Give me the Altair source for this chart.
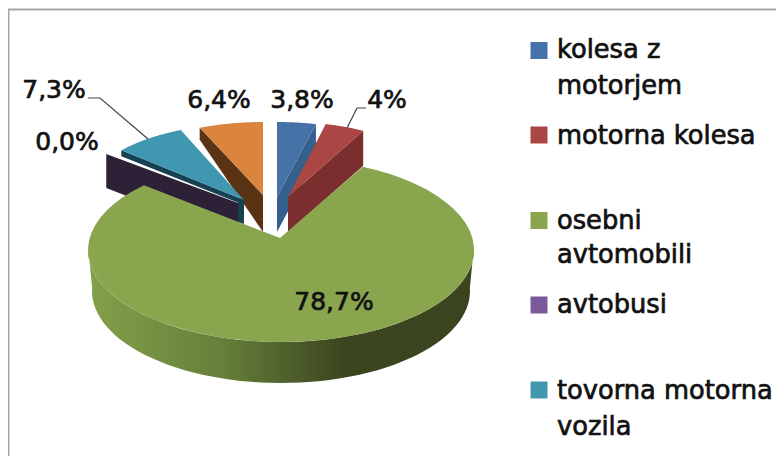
import math
import altair as alt

# ---- data ----
categories = ["kolesa z motorjem", "motorna kolesa", "osebni avtomobili", "avtobusi", "tovorna motorna vozila", "drugo"]
shares = [3.8, 4.0, 78.7, 0.0, 7.3, 6.4]
share_labels = ["3,8%", "4%", "78,7%", "0,0%", "7,3%", "6,4%"]
top_colors = ["#4572A7", "#AA4643", "#89A54E", "#7B5A9B", "#3F97B0", "#DB843D"]
wall_colors = ["#355F8C", "#7A2E2E", "#5F7A36", "#2D2138", "#174152", "#5A3315"]
legend_colors = ["#4572A7", "#AA4643", "#89A54E", "#7B5A9B", "#4198AF"]
legend_swatch_y = [50.5, 135, 220.5, 305, 390]
legend_lines = ["kolesa z", "motorjem", "motorna kolesa", "osebni", "avtomobili", "avtobusi", "tovorna motorna", "vozila"]
legend_line_y = [50, 86, 136, 221, 255, 305, 391, 427]
label_x = [302, 387, 334, 67, 54, 219]
label_y = [100, 100, 302, 142, 90, 100]

# ---- drawing geometry (page pixels) ----
FONT = "DejaVu Sans"
apex = [(277, 197), (288, 197), (280, 238), (238, 203), (244, 200), (263, 195)]
radii = [(165, 75), (160, 75), (193, 92), (174, 75), (162, 76), (162, 73)]
outer_depth = [35, 35, 0, 34, 6, 12]
apex_depth = [35, 35, 0, 36, 5, 37]
GREEN_C = (281, 250)
GREEN_WALL_C = (281, 291)
GREEN_TRIM = (-3, 4)

total = sum(shares)
cum = [0.0]
for s in shares:
    cum.append(cum[-1] + s / total * 360)


def arc(c, r, t0, t1, n=60):
    return [[c[0] + r[0] * math.sin(math.radians(t0 + (t1 - t0) * i / n)),
             c[1] - r[1] * math.cos(math.radians(t0 + (t1 - t0) * i / n))] for i in range(n + 1)]


def feat(points, name):
    pts = [list(p) for p in points]
    pts.append(pts[0])
    return {"type": "Feature", "properties": {"name": name}, "geometry": {"type": "Polygon", "coordinates": [pts]}}


def top_face(i):
    t0, t1 = cum[i], cum[i + 1]
    c = GREEN_C if i == 2 else apex[i]
    if i == 2:
        t0 += GREEN_TRIM[0]
        t1 += GREEN_TRIM[1]
    return [list(apex[i])] + arc(c, radii[i], t0, t1)


def cut_wall(i, angle):
    a = apex[i]
    o = arc(a, radii[i], angle, angle, 1)[0]
    return [a, o, [o[0], o[1] + outer_depth[i]], [a[0], a[1] + apex_depth[i]]]


proj = alt.Projection(type="identity", scale=1, translate=[-8, -8])


def shape(points, fill, name):
    return alt.Chart(alt.Data(values=[feat(points, name)])).mark_geoshape(
        fill=fill, stroke=None, strokeWidth=0).project(**proj.to_dict())


layers = []
# back to front
layers.append(shape(cut_wall(3, cum[3]), wall_colors[3], "avtobusi"))
layers.append(shape(cut_wall(5, cum[5]), wall_colors[5], "wall6"))
layers.append(shape(top_face(5), top_colors[5], "slice6"))
layers.append(shape(cut_wall(4, cum[4]), wall_colors[4], "wall5"))
ax, ay = apex[4]
layers.append(shape([[ax - 6, ay - 2], [ax, ay], [ax, ay + 24], [ax - 6, ay + 22]], wall_colors[4], "cap5"))
layers.append(shape(top_face(4), top_colors[4], "slice5"))
layers.append(shape(cut_wall(0, cum[1]), wall_colors[0], "wall1"))
layers.append(shape(top_face(0), top_colors[0], "slice1"))
layers.append(shape(cut_wall(1, cum[2]), wall_colors[1], "wall2"))
layers.append(shape(top_face(1), top_colors[1], "slice2"))

wall_pts = arc(GREEN_C, radii[2], 88, 272) + arc(GREEN_WALL_C, (189, 92), 272, 88)
grad = alt.Gradient(gradient="linear", x1=0, x2=1, y1=0, y2=0, stops=[
    alt.GradientStop(offset=0, color="#83A04B"),
    alt.GradientStop(offset=0.35, color="#667F3A"),
    alt.GradientStop(offset=0.66, color="#3B461F"),
    alt.GradientStop(offset=1, color="#3A441F"),
])
layers.append(shape(wall_pts, grad, "wall3"))
layers.append(shape(top_face(2), top_colors[2], "slice3"))

xs = alt.Scale(domain=[8, 776], range=[0, 768])
ys = alt.Scale(domain=[8, 456], range=[0, 448])
X = lambda f: alt.X(f, type="quantitative", scale=xs, axis=None)
Y = lambda f: alt.Y(f, type="quantitative", scale=ys, axis=None)

# frame
frame = alt.Chart(alt.Data(values=[{"x": 8.5, "x2": 8.5, "y": 9, "y2": 456}, {"x": 8, "x2": 776, "y": 9.5, "y2": 9.5}])).mark_rule(
    color="#A6A6A6", strokeWidth=2).encode(x=X("x"), x2="x2", y=Y("y"), y2="y2")
layers.insert(0, frame)

# leader lines
leader_data = [
    {"g": "a", "o": 0, "x": 88, "y": 98}, {"g": "a", "o": 1, "x": 100, "y": 98}, {"g": "a", "o": 2, "x": 148, "y": 139},
    {"g": "b", "o": 0, "x": 366, "y": 108}, {"g": "b", "o": 1, "x": 357, "y": 108}, {"g": "b", "o": 2, "x": 347, "y": 128},
]
layers.append(alt.Chart(alt.Data(values=leader_data)).mark_line(color="#444444", strokeWidth=1.2).encode(
    x=X("x"), y=Y("y"), detail="g:N", order="o:Q"))

# data labels
layers.append(alt.Chart(alt.Data(values=[{"t": t, "x": x, "y": y} for t, x, y in zip(share_labels, label_x, label_y)])).mark_text(
    font=FONT, fontSize=25, color="#111111", stroke="#111111", strokeWidth=0.7, align="center", baseline="middle").encode(
    x=X("x"), y=Y("y"), text="t:N"))

# legend swatches and lines
layers.append(alt.Chart(alt.Data(values=[{"c": c, "x": 539, "y": y} for c, y in zip(legend_colors, legend_swatch_y)])).mark_square(
    size=289, opacity=1, strokeWidth=0).encode(x=X("x"), y=Y("y"), color=alt.Color("c:N", scale=None)))
layers.append(alt.Chart(alt.Data(values=[{"t": t, "x": 557, "y": y} for t, y in zip(legend_lines, legend_line_y)])).mark_text(
    font=FONT, fontSize=25.7, color="#111111", stroke="#111111", strokeWidth=0.7, align="left", baseline="middle").encode(
    x=X("x"), y=Y("y"), text="t:N"))

chart = alt.layer(*layers).properties(
    width=768, height=448, padding=0, background="white",
    autosize=alt.AutoSizeParams(type="none")
).configure_view(stroke=None)

chart.save("out.html", embed_options={"renderer": "svg", "actions": False})
